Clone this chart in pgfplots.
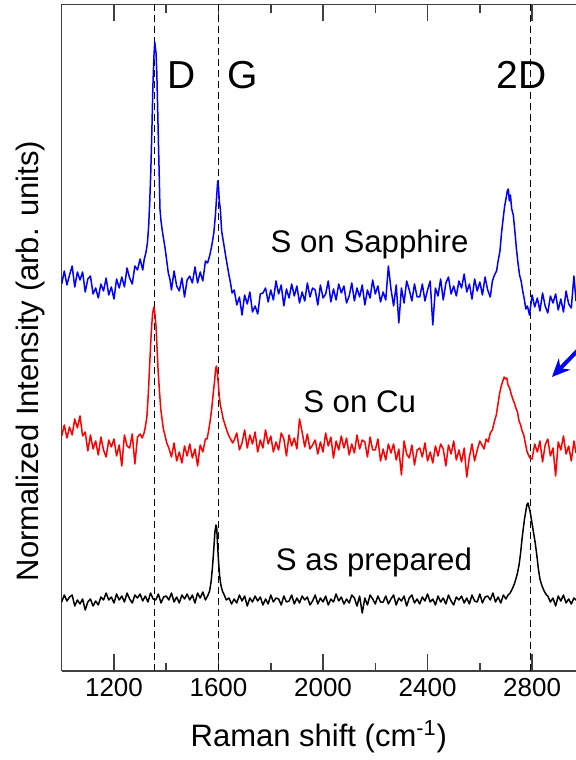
\documentclass[border=0pt]{standalone}
\usepackage{pgfplots}
\pgfplotsset{compat=1.18}
\usepackage{fontspec}
\setmainfont{Liberation Sans}
\setsansfont{Liberation Sans}
\usetikzlibrary{arrows.meta}
\begin{document}
\begin{tikzpicture}
\begin{axis}[
  scale only axis, width=257.15pt, height=333.3pt,
  xmin=1000, xmax=2968, ymin=0, ymax=666.6,
  axis x line=box, axis y line=left,
  axis line style={-, draw=black!75, line width=0.75pt},
  every outer y axis line/.append style={-},
  every outer x axis line/.append style={-},
  xtick={1200,1600,2000,2400,2800},
  minor xtick={1400,1800,2200,2600},
  ytick=\empty,
  tick align=inside,
  major tick length=8.5pt, minor tick length=4.2pt,
  tick style={draw=black!75, line width=0.75pt},
  /pgf/number format/assume math mode=true,
  /pgf/number format/1000 sep={},
  xticklabel style={font=\fontsize{13}{13}\selectfont},
  xlabel={Raman shift (cm\textsuperscript{-1})},
  every axis x label/.style={at={(rel axis cs:0.5,0)}, anchor=base, yshift=-37.5pt, font=\fontsize{15.5}{15.5}\selectfont},
  ylabel={Normalized Intensity (arb. units)},
  every axis y label/.style={at={(rel axis cs:0,0.465)}, xshift=-15.4pt, rotate=90, anchor=center, font=\fontsize{15.5}{15.5}\selectfont},
]
% dashed reference lines
\draw[black, line width=0.5pt, dash pattern=on 3.5pt off 2pt] (axis cs:1357,0) -- (axis cs:1357,666.6);
\draw[black, line width=0.5pt, dash pattern=on 3.5pt off 2pt] (axis cs:1600,0) -- (axis cs:1600,666.6);
\draw[black, line width=0.5pt, dash pattern=on 3.5pt off 2pt] (axis cs:2792,0) -- (axis cs:2792,666.6);

% S on Sapphire (blue)
\addplot[blue, line width=0.75pt, line join=round] table {
1000 387
1010 400
1020 386
1030 396
1040 405
1050 384
1060 399
1070 391
1080 399
1090 379
1100 392
1110 395
1120 377
1130 383
1140 373
1150 387
1160 380
1170 393
1180 376
1190 384
1200 372
1210 392
1220 383
1230 394
1240 384
1250 403
1260 393
1270 387
1280 405
1290 401
1300 412
1310 401
1316 412
1322 418
1328 428
1333 446
1337 470
1341 500
1345 540
1349 585
1353 615
1356 629
1358 624
1361 618
1364 598
1367 565
1370 530
1373 498
1376 462
1380 450
1385 440
1390 432
1396 422
1402 410
1408 398
1414 392
1420 381
1430 400
1440 385
1450 380
1460 393
1470 374
1480 391
1490 395
1500 388
1510 404
1520 388
1530 399
1540 390
1550 410
1558 408
1566 415
1574 425
1582 438
1588 455
1593 475
1597 490
1600 484
1603 470
1607 462
1612 440
1617 432
1622 424
1628 414
1634 405
1640 396
1646 388
1652 378
1660 381
1670 366
1680 374
1690 356
1700 376
1710 367
1720 379
1730 359
1740 365
1750 357
1760 377
1770 378
1780 383
1790 369
1800 381
1810 371
1820 390
1830 377
1840 386
1850 365
1860 382
1870 373
1880 387
1890 375
1900 385
1910 368
1920 379
1930 370
1940 388
1950 374
1960 383
1970 381
1980 366
1990 386
2000 373
2010 377
2020 390
2030 369
2040 382
2050 371
2060 387
2070 378
2080 385
2090 368
2100 375
2110 388
2120 370
2130 383
2140 374
2150 386
2160 366
2170 381
2180 373
2190 391
2200 377
2210 385
2220 369
2230 379
2240 371
2250 405
2260 382
2270 365
2280 386
2290 348
2300 383
2310 368
2320 390
2330 381
2340 370
2350 387
2360 374
2370 374
2380 387
2390 370
2400 381
2410 390
2420 346
2430 383
2440 375
2450 392
2460 371
2470 388
2480 394
2490 377
2500 385
2510 375
2520 390
2530 383
2540 397
2550 379
2560 387
2570 372
2580 392
2590 380
2600 389
2610 376
2620 394
2630 381
2640 374
2648 390
2656 396
2664 400
2670 410
2677 420
2683 438
2689 452
2695 465
2700 472
2705 480
2709 482
2713 470
2717 476
2722 462
2728 456
2734 440
2740 422
2746 408
2752 396
2758 390
2764 380
2770 372
2776 362
2782 365
2790 356
2800 376
2810 364
2820 373
2830 360
2840 378
2850 365
2860 358
2870 375
2880 368
2890 377
2900 361
2910 372
2920 359
2930 380
2940 367
2950 363
2960 395
2968 370
};

% S on Cu (red)
\addplot[red, line width=0.75pt, line join=round] table {
1000 235
1010 246
1020 233
1030 244
1040 236
1050 252
1060 243
1070 255
1080 235
1090 239
1100 220
1110 236
1120 222
1130 230
1140 216
1150 234
1160 221
1170 214
1180 231
1190 224
1200 232
1210 215
1220 226
1230 205
1240 236
1250 225
1260 223
1270 237
1280 207
1290 234
1300 237
1308 233
1315 238
1320 244
1326 254
1332 280
1338 314
1343 340
1348 358
1353 364
1357 356
1361 345
1365 322
1369 300
1374 280
1379 262
1384 252
1389 242
1395 236
1402 228
1410 223
1420 214
1430 228
1440 210
1450 219
1460 208
1470 225
1480 215
1490 227
1500 213
1510 222
1520 205
1530 226
1540 219
1550 232
1556 232
1562 240
1568 250
1574 262
1580 278
1585 290
1589 302
1592 305
1595 300
1599 288
1603 275
1607 266
1612 260
1618 252
1624 247
1630 242
1638 236
1646 232
1654 228
1660 231
1670 238
1680 221
1690 228
1700 241
1710 223
1720 236
1730 227
1740 239
1750 219
1760 231
1770 223
1780 241
1790 227
1800 235
1810 219
1820 229
1830 221
1840 238
1850 232
1860 215
1870 236
1880 225
1890 233
1900 222
1910 252
1920 239
1930 224
1940 237
1950 222
1960 226
1970 231
1980 217
1990 229
2000 219
2010 238
2020 225
2030 234
2040 213
2050 230
2060 221
2070 235
2080 223
2090 233
2100 216
2110 227
2120 218
2130 236
2140 222
2150 231
2160 229
2170 214
2180 234
2190 221
2200 221
2210 232
2220 210
2230 222
2240 211
2250 227
2260 218
2270 227
2280 211
2290 222
2300 196
2310 230
2320 217
2330 213
2340 226
2350 206
2360 221
2370 223
2380 214
2390 228
2400 210
2410 219
2420 208
2430 225
2440 215
2450 227
2460 222
2470 205
2480 226
2490 217
2500 230
2510 211
2520 221
2530 209
2540 223
2550 194
2560 214
2570 227
2580 210
2590 221
2600 230
2608 226
2616 222
2624 232
2632 229
2640 238
2648 241
2656 250
2663 256
2670 268
2676 278
2682 285
2688 290
2693 294
2698 292
2703 293
2708 286
2714 283
2720 277
2726 272
2732 268
2738 263
2744 259
2750 250
2756 246
2762 240
2768 236
2774 228
2780 220
2786 216
2792 213
2800 212
2810 227
2820 219
2830 230
2840 209
2850 226
2860 232
2870 215
2880 223
2890 195
2900 229
2910 221
2920 235
2930 217
2940 225
2950 210
2960 230
2968 218
};

% S as prepared (black)
\addplot[black, line width=0.75pt, line join=round] table {
1000 69
1010 76
1020 70
1030 74
1040 76
1050 65
1060 71
1070 67
1080 72
1090 61
1100 69
1110 72
1120 65
1130 70
1140 66
1150 74
1160 71
1170 78
1180 71
1190 74
1200 68
1210 77
1220 71
1230 75
1240 69
1250 78
1260 72
1270 68
1280 76
1290 73
1300 77
1310 70
1320 75
1330 69
1340 78
1350 72
1360 71
1370 77
1380 68
1390 74
1400 75
1410 71
1420 78
1430 69
1440 74
1450 68
1460 76
1470 72
1480 77
1490 71
1500 76
1510 68
1520 78
1530 73
1540 79
1550 71
1560 76
1566 80
1572 90
1577 104
1582 122
1586 138
1590 146
1593 144
1596 128
1600 110
1604 96
1609 86
1615 80
1622 76
1630 71
1640 73
1650 67
1660 72
1670 68
1680 76
1690 70
1700 75
1710 65
1720 73
1730 69
1740 75
1750 70
1760 74
1770 66
1780 72
1790 67
1800 76
1810 69
1820 73
1830 72
1840 66
1850 75
1860 69
1870 70
1880 76
1890 67
1900 73
1910 68
1920 75
1930 71
1940 74
1950 66
1960 70
1970 76
1980 67
1990 73
2000 69
2010 75
2020 66
2030 72
2040 69
2050 77
2060 70
2070 74
2080 67
2090 72
2100 68
2110 76
2120 73
2130 65
2140 75
2150 58
2160 73
2170 66
2180 76
2190 72
2200 67
2210 75
2220 69
2230 69
2240 75
2250 67
2260 72
2270 76
2280 66
2290 73
2300 70
2310 75
2320 65
2330 73
2340 76
2350 68
2360 72
2370 67
2380 74
2390 70
2400 77
2410 69
2420 72
2430 66
2440 75
2450 69
2460 73
2470 67
2480 76
2490 70
2500 66
2510 74
2520 71
2530 75
2540 68
2550 73
2560 67
2570 76
2580 70
2590 69
2600 77
2610 68
2620 74
2630 75
2640 71
2650 78
2660 69
2670 74
2680 68
2690 76
2700 72
2708 76
2716 78
2724 82
2732 87
2738 92
2744 98
2750 106
2756 118
2761 131
2766 142
2771 152
2776 160
2780 166
2784 168
2788 164
2792 160
2797 152
2802 144
2807 136
2812 128
2818 116
2824 102
2830 92
2838 85
2846 80
2855 76
2860 75
2870 69
2880 73
2890 65
2900 75
2910 70
2920 76
2930 68
2940 72
2950 67
2960 73
2968 71
};

% labels
\node[anchor=base, font=\fontsize{19.5}{19.5}\selectfont] at (axis cs:1459,582) {D};
\node[anchor=base, font=\fontsize{19.5}{19.5}\selectfont] at (axis cs:1692,582) {G};
\node[anchor=base, font=\fontsize{19.5}{19.5}\selectfont] at (axis cs:2761,582) {2D};
\node[anchor=base, font=\fontsize{15.6}{15.6}\selectfont] at (axis cs:2178,418) {S on Sapphire};
\node[anchor=base, font=\fontsize{15.6}{15.6}\selectfont] at (axis cs:2140,258) {S on Cu};
\node[anchor=base, font=\fontsize{15.6}{15.6}\selectfont] at (axis cs:2195,101) {S as prepared};
% arrow
\draw[blue, line width=2pt, -{Stealth[length=9pt, width=8pt]}] (axis cs:2980,322) -- (axis cs:2876,294);
\end{axis}
\pgfresetboundingbox
\path[use as bounding box] (-30.85pt,-44.5pt) rectangle (257.15pt,335.5pt);
\end{tikzpicture}
\end{document}
